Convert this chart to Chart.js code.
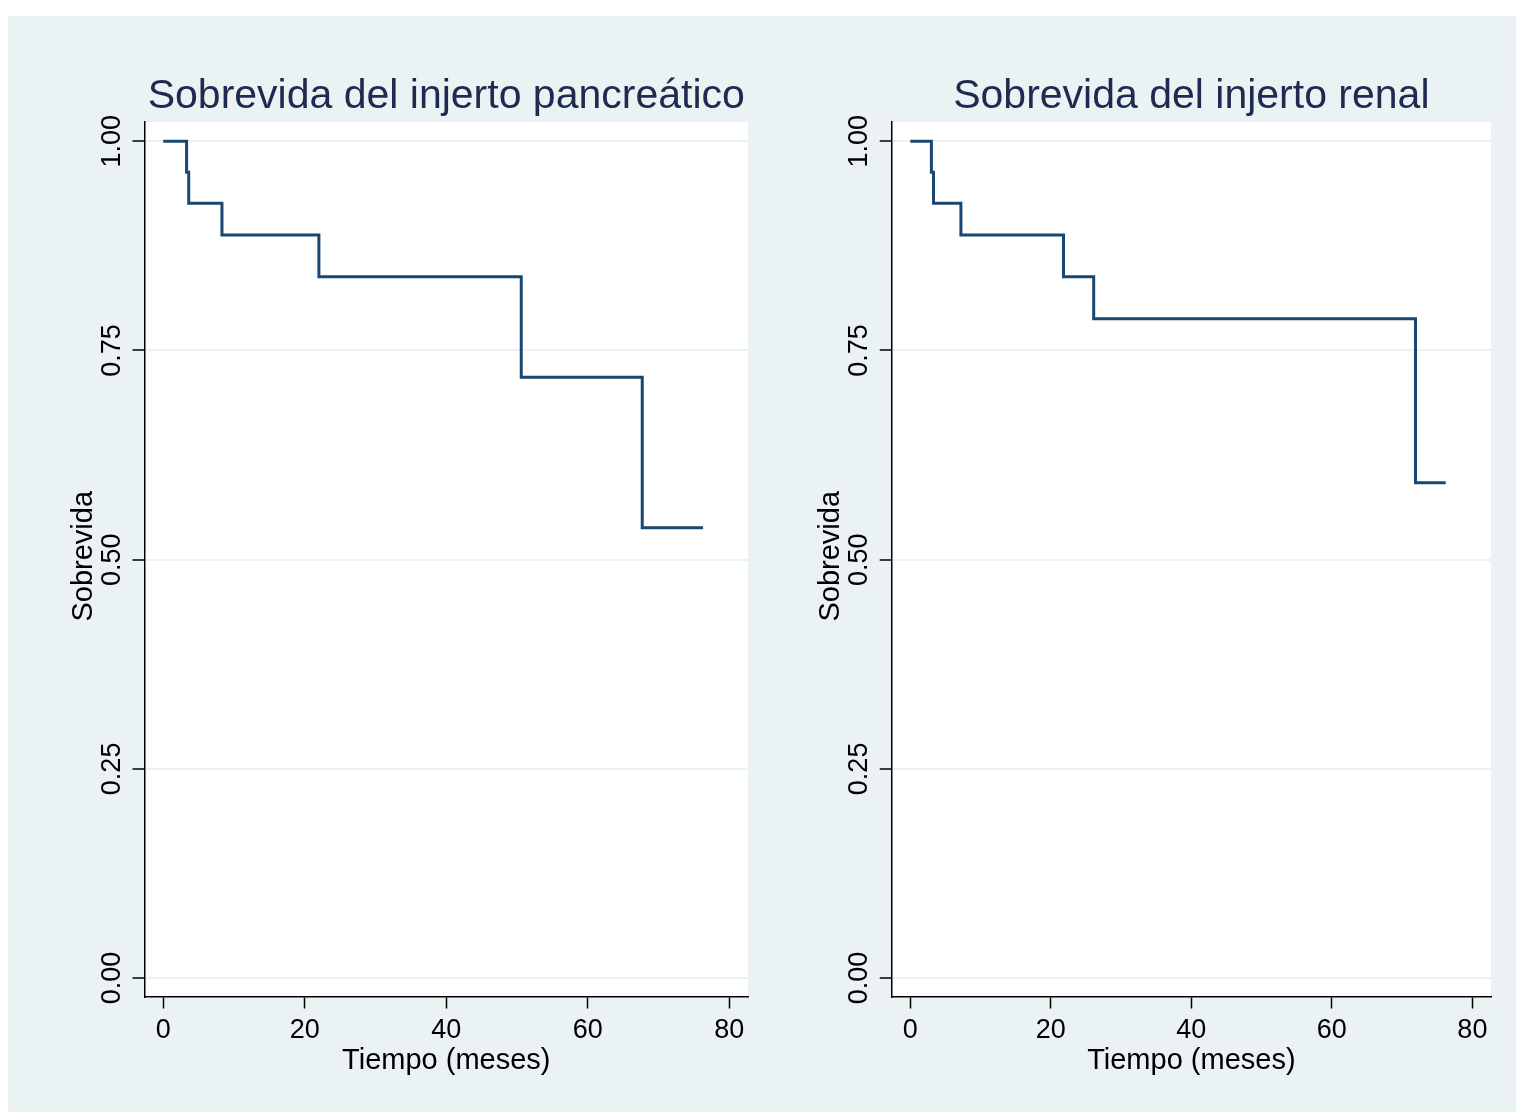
<!DOCTYPE html>
<html>
<head>
<meta charset="utf-8">
<script src="https://cdn.jsdelivr.net/npm/chart.js@4.4.1/dist/chart.umd.min.js"></script>
<style>
  body { margin: 0; background: #fff; }
  #graph { position: absolute; left: 8px; top: 16px; width: 1508px; height: 1096px; background: #eaf2f3; }
  #graph canvas { position: absolute; top: 0; }
</style>
</head>
<body>
<div id="graph">
  <canvas id="pancreas" width="762" height="1096" style="left:0"></canvas>
  <canvas id="kidney" width="746" height="1096" style="left:762px"></canvas>
</div>
<script>
// tick positions / labels
const monthTicks = [0, 20, 40, 60, 80];
const survTicks = [0, 0.25, 0.5, 0.75, 1];
const survTickLabels = ['0.00', '0.25', '0.50', '0.75', '1.00'];

// Kaplan-Meier steps (months, survival)
const pancTimes = [0, 3.3, 3.6, 8.3, 22.0, 50.6, 67.7, 76.3];
const pancSurv  = [1, 0.963, 0.926, 0.888, 0.838, 0.718, 0.538, 0.538];

const renalTimes = [0, 3.0, 3.3, 7.2, 21.8, 26.1, 71.9, 76.2];
const renalSurv  = [1, 0.963, 0.926, 0.888, 0.838, 0.788, 0.592, 0.592];

const FONT = '"Liberation Sans", Arial, Helvetica, sans-serif';
const LINE = '#1a476f';
const TITLE = '#1e2b50';

// white plot region + all the rotated / positioned text
const stataText = {
    id: 'stataText',
    beforeDraw(chart) {
        const { ctx, chartArea: a } = chart;
        ctx.save();
        ctx.fillStyle = '#fff';
        ctx.fillRect(a.left, a.top, a.right - a.left, a.bottom - a.top);
        ctx.restore();
    },
    afterDraw(chart, args, opts) {
        const { ctx, chartArea: a } = chart;
        const y = chart.scales.y;
        const cx = (a.left + a.right) / 2;
        ctx.save();
        // main title
        ctx.fillStyle = TITLE;
        ctx.font = `41px ${FONT}`;
        ctx.textAlign = 'center';
        ctx.textBaseline = 'alphabetic';
        ctx.fillText(opts.title, cx, a.top - 14);
        // x axis title
        ctx.fillStyle = '#000';
        ctx.font = `29px ${FONT}`;
        ctx.fillText('Tiempo (meses)', cx, a.bottom + 72);
        // y tick labels, rotated
        ctx.font = `27px ${FONT}`;
        survTicks.forEach((v, i) => {
            ctx.save();
            ctx.translate(a.left - 25, y.getPixelForValue(v));
            ctx.rotate(-Math.PI / 2);
            ctx.fillText(survTickLabels[i], 0, 0);
            ctx.restore();
        });
        // y axis title
        ctx.font = `29px ${FONT}`;
        ctx.translate(a.left - 53, (a.top + a.bottom) / 2 - 3);
        ctx.rotate(-Math.PI / 2);
        ctx.fillText('Sobrevida', 0, 0);
        ctx.restore();
    }
};

function kmChart(id, title, times, surv, yWidth, padRight) {
    new Chart(document.getElementById(id), {
        type: 'scatter',
        data: {
            datasets: [{
                data: times.map((t, i) => ({ x: t, y: surv[i] })),
                showLine: true,
                stepped: true,
                borderColor: LINE,
                borderWidth: 3,
                pointRadius: 0,
                fill: false
            }]
        },
        options: {
            responsive: false,
            animation: false,
            events: [],
            layout: { padding: { left: 0, top: 106, right: padRight, bottom: 0 } },
            plugins: {
                legend: { display: false },
                tooltip: { enabled: false },
                stataText: { title }
            },
            scales: {
                x: {
                    type: 'linear',
                    min: -2.65,
                    max: 82.65,
                    afterBuildTicks: s => { s.ticks = monthTicks.map(v => ({ value: v })); },
                    afterFit: s => { s.height = 115.5; },
                    border: { color: '#000', width: 1.5 },
                    grid: { drawOnChartArea: false, tickLength: 12, tickColor: '#000', tickWidth: 1.5 },
                    ticks: { color: '#000', font: { family: FONT, size: 27 }, padding: 6, maxRotation: 0 }
                },
                y: {
                    type: 'linear',
                    min: -0.022,
                    max: 1.023,
                    afterBuildTicks: s => { s.ticks = survTicks.map(v => ({ value: v })); },
                    afterFit: s => { s.width = yWidth; },
                    border: { color: '#000', width: 1.5 },
                    grid: { color: '#eaf2f3', lineWidth: 2, tickLength: 12, tickColor: '#000', tickWidth: 1.5 },
                    ticks: { display: false }
                }
            }
        },
        plugins: [stataText]
    });
}

kmChart('pancreas', 'Sobrevida del injerto pancreático', pancTimes, pancSurv, 136.5, 22);
kmChart('kidney', 'Sobrevida del injerto renal', renalTimes, renalSurv, 121.7, 25);
</script>
</body>
</html>
